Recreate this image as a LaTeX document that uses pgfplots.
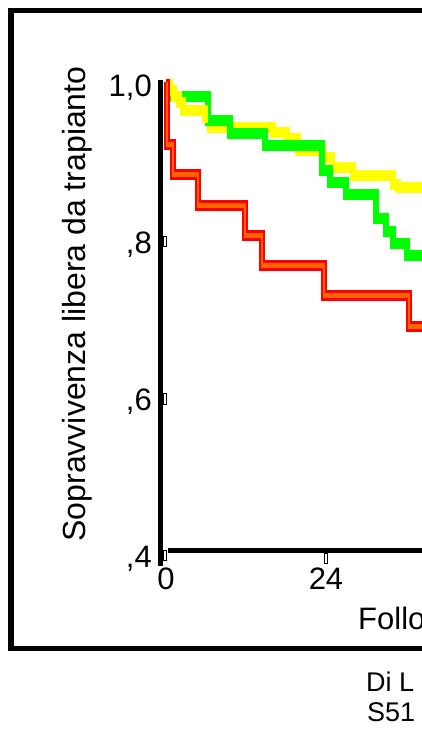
\documentclass[border=0pt]{standalone}
\usepackage{fontspec}
\setmainfont{Liberation Sans}
\usepackage{pgfplots}
\usepackage{pgfplotstable}
\pgfplotsset{compat=1.18}
\definecolor{kmred}{RGB}{255,0,0}
\definecolor{kmorange}{RGB}{255,102,0}
\definecolor{kmgreen}{RGB}{0,255,0}
\definecolor{kmyellow}{RGB}{255,255,0}

\pgfplotstableread{
t s
0 1.000
0.2 0.923
1.1 0.885
4.8 0.846
11.9 0.808
14.4 0.769
23.7 0.731
36.4 0.692
45 0.692
}\redtab

\pgfplotstableread{
t s
0 1.000
0.1 0.985
6.3 0.954
9.6 0.938
14.9 0.922
23.4 0.891
24.6 0.875
27.0 0.860
31.5 0.829
33.0 0.813
34.0 0.798
36.2 0.782
45 0.782
}\greentab

\pgfplotstableread{
t s
0 1.000
0.6 0.992
1.2 0.985
2.0 0.977
2.6 0.967
5.9 0.954
}\yellowA

\pgfplotstableread{
t s
5.9 0.954
6.6 0.945
16.0 0.939
18.2 0.931
19.8 0.916
23.5 0.907
24.9 0.894
28.0 0.884
34.0 0.873
34.8 0.869
45 0.869
}\yellowB

\begin{document}
\begin{tikzpicture}[x=1pt,y=1pt]
\useasboundingbox (0,0) rectangle (422,743);
\clip (0,0) rectangle (422,743);
\fill[white] (0,0) rectangle (422,743);
\draw[line width=5.5pt] (900,732.5) -- (11,732.5) -- (11,94.5) -- (900,94.5);
\begin{axis}[at={(166pt,193pt)}, anchor=south west, scale only axis,
  width=400pt, height=471pt, xmin=0, xmax=60, ymin=0.4, ymax=1.0,
  clip=false, axis line style={draw=none}, major tick length=0pt,
  xtick={0,24}, xticklabels={0,24},
  ytick={0.4,0.6,0.8,1.0}, yticklabels={{,4},{,6},{,8},{1,0}},
  /pgf/number format/assume math mode=true,
  tick label style={font=\fontsize{31}{31}\selectfont, inner sep=0pt},
  yticklabel style={anchor=base east, xshift=-14pt, yshift=-18pt},
  xticklabel style={anchor=base, yshift=-40pt},
  every axis plot/.append style={const plot, line join=miter, no markers}]
\addplot[kmyellow, line width=6pt] table[x=t, y expr=\thisrow{s}-0.0038] {\yellowB};
\addplot[kmyellow, line width=6pt] table[x=t, y expr=\thisrow{s}-0.0102] {\yellowB};
\addplot[kmgreen, line width=6pt] table[x=t, y expr=\thisrow{s}-0.0038] {\greentab};
\addplot[kmgreen, line width=6pt] table[x=t, y expr=\thisrow{s}-0.0102] {\greentab};
\addplot[kmyellow, line width=6pt] table[x=t, y expr=\thisrow{s}-0.0038] {\yellowA};
\addplot[kmyellow, line width=6pt] table[x=t, y expr=\thisrow{s}-0.0102] {\yellowA};
\addplot[kmred, line width=6pt] table[x=t, y expr=\thisrow{s}-0.0038] {\redtab};
\addplot[kmred, line width=6pt] table[x=t, y expr=\thisrow{s}-0.0102] {\redtab};
\addplot[kmorange, line width=1.9pt] table[x=t, y expr=\thisrow{s}-0.0051] {\redtab};
\addplot[kmorange, line width=1.9pt] table[x=t, y expr=\thisrow{s}-0.0070] {\redtab};
\addplot[kmorange, line width=1.9pt] table[x=t, y expr=\thisrow{s}-0.0089] {\redtab};
\end{axis}
\draw[line width=5pt] (160.5,663) -- (160.5,177);
\draw[line width=5pt] (168,192.5) -- (900,192.5);
\draw[line width=0.8pt, fill=white] (163.5,507) rectangle (166.5,497);
\draw[line width=0.8pt, fill=white] (163.5,350) rectangle (166.5,339);
\draw[line width=0.8pt, fill=white] (163.5,193) rectangle (166.5,183);
\draw[line width=0.8pt, fill=white] (324.3,190) rectangle (327,180);
\node[rotate=90, anchor=base, inner sep=0pt, font=\fontsize{32}{32}\selectfont] at (85,439) {Sopravvivenza libera da trapianto};
\node[anchor=base west, inner sep=0pt, font=\fontsize{31}{31}\selectfont] at (358,113) {Follow-up (mesi)};
\node[anchor=base west, inner sep=0pt, font=\fontsize{27}{27}\selectfont] at (366,51) {Di L};
\node[anchor=base west, inner sep=0pt, font=\fontsize{27}{27}\selectfont] at (367,21) {S51};
\end{tikzpicture}
\end{document}
